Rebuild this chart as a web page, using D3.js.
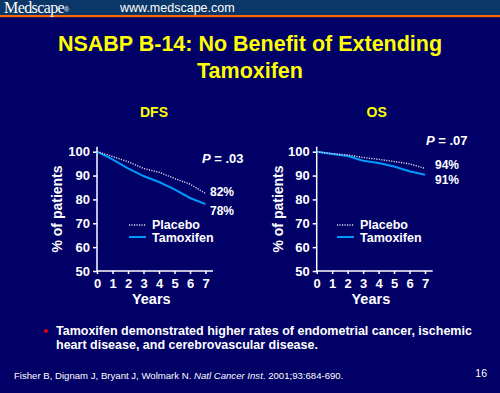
<!DOCTYPE html>
<html><head><meta charset="utf-8">
<script src="https://cdn.jsdelivr.net/npm/d3@7"></script>
<style>
html,body{margin:0;padding:0;background:#000066;}
svg{display:block;}
text{font-family:"Liberation Sans",Arial,sans-serif;}
</style></head>
<body>
<script>
const years = [0,1,2,3,4,5,6,7];
const dfsPlacebo = [100,98,95.8,93,91.4,88.8,86.4,82.5];
const dfsTamoxifen = [100,96.8,93,89.8,87.3,84.2,80.6,78];
const osPlacebo = [100,99.2,98.6,97.6,96.8,95.9,94.9,93];
const osTamoxifen = [100,99,98.2,96.2,95.3,93.8,91.8,90.3];
const yTicks = [50,60,70,80,90,100];
const panels = [
  {title:"DFS", placebo:dfsPlacebo, tamoxifen:dfsTamoxifen, p:"= .03", endLabels:["82%","78%"]},
  {title:"OS", placebo:osPlacebo, tamoxifen:osTamoxifen, p:"= .07", endLabels:["94%","91%"]}
];

const W=500,H=393;
const svg=d3.select("body").append("svg").attr("width",W).attr("height",H);
svg.append("rect").attr("width",W).attr("height",H).attr("fill","#000066");
// header
svg.append("rect").attr("width",W).attr("height",15).attr("fill","#0a3668");
svg.append("rect").attr("y",15).attr("width",W).attr("height",2.2).attr("fill","#ff6600");
svg.append("text").attr("x",4).attr("y",12.5).attr("fill","#fff")
  .style("font-family","'Liberation Serif','Times New Roman',serif").style("font-size","16px").style("letter-spacing","-0.6px")
  .text("Medscape").append("tspan").style("font-size","7px").style("font-family","'Liberation Sans',Arial").attr("dy",-1).text("®");
svg.append("text").attr("x",120).attr("y",12).attr("fill","#fff").style("font-size","12.5px").text("www.medscape.com");

// title
const tcol="#ffff00";
svg.append("text").attr("x",250).attr("y",51).attr("text-anchor","middle").attr("fill",tcol)
  .style("font-size","21.5px").style("font-weight","bold").text("NSABP B-14: No Benefit of Extending");
svg.append("text").attr("x",250).attr("y",78).attr("text-anchor","middle").attr("fill",tcol)
  .style("font-size","21.5px").style("font-weight","bold").text("Tamoxifen");

const layouts=[
  {x0:97,x7:205.5,axEnd:213,titleX:154,pX:202,pY:163,endX:210,endY:[196,215],legX:129,ylabX:57},
  {x0:316.7,x7:425,axEnd:432.7,titleX:376.7,pX:426,pY:145,endX:435,endY:[169,184],legX:337,ylabX:278}
];
const yTop=151.7,yBot=271;

panels.forEach((pd,i)=>{
  const L=layouts[i];
  const x=d3.scaleLinear().domain([0,7]).range([L.x0,L.x7]);
  const y=d3.scaleLinear().domain([50,100]).range([yBot,yTop]);
  const g=svg.append("g");
  g.append("text").attr("x",L.titleX).attr("y",117).attr("text-anchor","middle").attr("fill",tcol)
    .style("font-size","14px").style("font-weight","bold").text(pd.title);
  // y axis
  const ya=g.append("g").attr("transform",`translate(${L.x0},0)`)
    .call(d3.axisLeft(y).tickValues(yTicks).tickFormat(d3.format("d")).tickSize(4).tickSizeOuter(0).tickPadding(3));
  ya.select(".domain").attr("d",`M0,${yBot}V${yTop-5}`);
  const xa=g.append("g").attr("transform",`translate(0,${yBot})`)
    .call(d3.axisBottom(x).tickValues(years).tickFormat(d3.format("d")).tickSize(3).tickSizeOuter(0).tickPadding(5));
  xa.select(".domain").attr("d",`M${L.x0},0H${L.axEnd}`);
  [ya,xa].forEach(a=>{
    a.selectAll("path,line").attr("stroke","#fff").attr("stroke-width",1.5);
    a.selectAll("text").attr("fill","#fff").style("font-size","13px").style("font-weight","bold")
      .style("font-family","'Liberation Sans',Arial,sans-serif");
  });
  g.append("text").attr("x",(L.x0+L.x7)/2).attr("y",304).attr("text-anchor","middle").attr("fill","#fff")
    .style("font-size","14.5px").style("font-weight","bold").text("Years");
  g.append("text").attr("transform",`translate(${L.ylabX+5},209) rotate(-90)`).attr("text-anchor","middle").attr("fill","#fff")
    .style("font-size","14px").style("font-weight","bold").text("% of patients");
  const line=d3.line().x((d,j)=>x(years[j])).y(d=>y(d));
  g.append("path").datum(pd.tamoxifen).attr("d",line).attr("fill","none").attr("stroke","#0099ff").attr("stroke-width",2);
  g.append("path").datum(pd.placebo).attr("d",line).attr("fill","none").attr("stroke","#d8d8f0").attr("stroke-width",1.4).attr("stroke-dasharray","1.2,1.3");
  const pt=g.append("text").attr("x",L.pX).attr("y",L.pY).attr("fill","#fff").style("font-size","13px").style("font-weight","bold");
  pt.append("tspan").style("font-style","italic").text("P");
  pt.append("tspan").text(" "+pd.p);
  pd.endLabels.forEach((t,k)=>g.append("text").attr("x",L.endX).attr("y",L.endY[k]).attr("fill","#fff")
    .style("font-size","12px").style("font-weight","bold").text(t));
  // legend
  g.append("line").attr("x1",L.legX).attr("x2",L.legX+17).attr("y1",225).attr("y2",225)
    .attr("stroke","#d8d8f0").attr("stroke-width",1.4).attr("stroke-dasharray","1.2,1.3");
  g.append("line").attr("x1",L.legX).attr("x2",L.legX+17).attr("y1",237).attr("y2",237)
    .attr("stroke","#0099ff").attr("stroke-width",2);
  g.append("text").attr("x",L.legX+23).attr("y",229).attr("fill","#fff").style("font-size","12.5px").style("font-weight","bold").text("Placebo");
  g.append("text").attr("x",L.legX+23).attr("y",241.5).attr("fill","#fff").style("font-size","12.5px").style("font-weight","bold").text("Tamoxifen");
});

// bullet
svg.append("circle").attr("cx",46).attr("cy",331).attr("r",2).attr("fill","#e0001a");
svg.append("text").attr("x",56).attr("y",335).attr("fill","#fff").style("font-size","12.5px").style("font-weight","bold")
  .text("Tamoxifen demonstrated higher rates of endometrial cancer, ischemic");
svg.append("text").attr("x",56).attr("y",349).attr("fill","#fff").style("font-size","12.5px").style("font-weight","bold")
  .text("heart disease, and cerebrovascular disease.");
// citation
const c=svg.append("text").attr("x",14).attr("y",379).attr("fill","#fff").style("font-size","9.6px");
c.append("tspan").text("Fisher B, Dignam J, Bryant J, Wolmark N. ");
c.append("tspan").style("font-style","italic").text("Natl Cancer Inst");
c.append("tspan").text(". 2001;93:684-690.");
svg.append("text").attr("x",487).attr("y",377).attr("text-anchor","end").attr("fill","#fff").style("font-size","10.5px").text("16");
</script>
</body></html>
